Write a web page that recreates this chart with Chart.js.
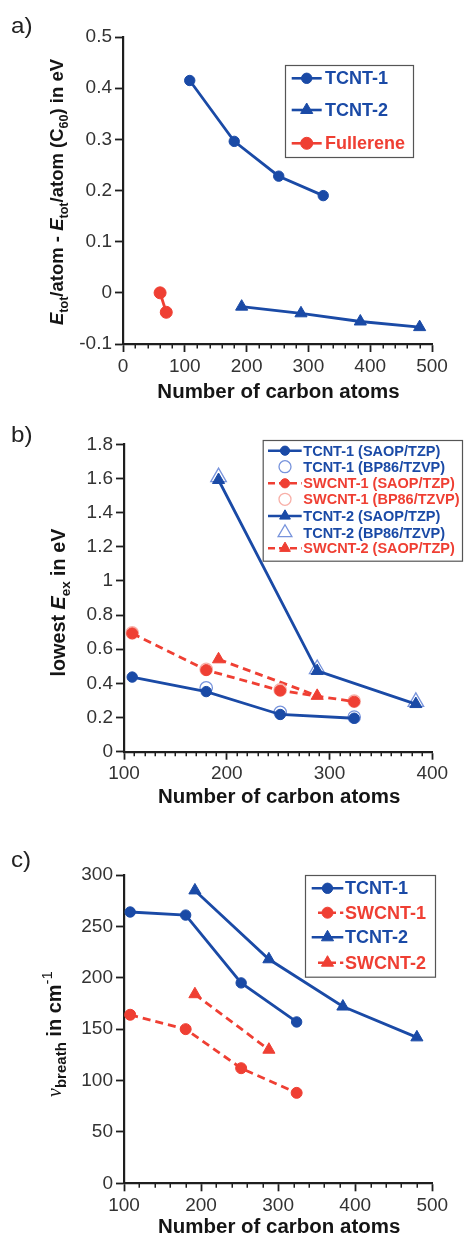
<!DOCTYPE html>
<html><head><meta charset="utf-8">
<script src="https://cdn.jsdelivr.net/npm/chart.js@4.4.1/dist/chart.umd.min.js"></script>
<style>
html,body{margin:0;padding:0;background:#fff;}
#wrap{position:relative;width:465px;height:1236px;overflow:hidden;background:#fff;}
canvas{position:absolute;left:0;}
</style></head><body>
<div id="wrap">
<canvas id="ca" width="465" height="400" style="top:0px"></canvas>
<canvas id="cb" width="465" height="420" style="top:400px"></canvas>
<canvas id="cc" width="465" height="416" style="top:820px"></canvas>
</div>
<script>
// ---------- DATA ----------
// Panel a)
const aTcnt1N = [108, 180, 252, 324];
const aTcnt1E = [0.415, 0.296, 0.228, 0.190];
const aTcnt2N = [192, 288, 384, 480];
const aTcnt2E = [-0.027, -0.040, -0.056, -0.067];
const aFullN  = [60, 70];
const aFullE  = [0.000, -0.038];
const aXLabels = ['0', '100', '200', '300', '400', '500'];
const aYLabels = ['-0.1', '0', '0.1', '0.2', '0.3', '0.4', '0.5'];

// Panel b)
const bTcnt1N    = [108, 180, 252, 324];
const bTcnt1Saop = [0.437, 0.352, 0.218, 0.196];
const bTcnt1BpN  = [180, 252, 324];
const bTcnt1Bp   = [0.374, 0.230, 0.203];
const bSwcnt1N    = [108, 180, 252, 324];
const bSwcnt1Saop = [0.693, 0.478, 0.358, 0.293];
const bSwcnt1BpN  = [108, 180, 252, 324];
const bSwcnt1Bp   = [0.696, 0.482, 0.362, 0.296];
const bTcnt2N    = [192, 288, 384];
const bTcnt2Saop = [1.591, 0.473, 0.279];
const bTcnt2Bp   = [1.608, 0.484, 0.292];
const bSwcnt2N    = [192, 288];
const bSwcnt2Saop = [0.541, 0.327];
const bXLabels = ['100', '200', '300', '400'];
const bYLabels = ['0', '0.2', '0.4', '0.6', '0.8', '1', '1.2', '1.4', '1.6', '1.8'];

// Panel c)
const cTcnt1N  = [108, 180, 252, 324];
const cTcnt1   = [264, 261, 195, 157];
const cSwcnt1N = [108, 180, 252, 324];
const cSwcnt1  = [164, 150, 112, 88];
const cTcnt2N  = [192, 288, 384, 480];
const cTcnt2   = [285, 218, 172, 142];
const cSwcnt2N = [192, 288];
const cSwcnt2  = [184, 130];
const cXLabels = ['100', '200', '300', '400', '500'];
const cYLabels = ['0', '50', '100', '150', '200', '250', '300'];

// ---------- STYLE ----------
const F = '"Liberation Sans", Arial, Helvetica, sans-serif';
const SERIF = '"Liberation Serif", "DejaVu Serif", serif';
const BLUE = '#1a4aa6';
const RED = '#ef3f33';
const LBLUE = '#7894dc';
const LRED = '#f8b0a8';
const AXIS = '#1e1e1e';
const TICKTXT = '#333333';

function pts(xs, ys) { return xs.map((x, i) => ({ x: x, y: ys[i] })); }

function series(label, xs, ys, o) {
  const open = o.open === true;
  return {
    label: label,
    data: pts(xs, ys),
    showLine: !open,
    borderColor: o.color,
    backgroundColor: o.color,
    borderWidth: 2.8,
    borderDash: o.dash ? [8, 5] : [],
    tension: 0,
    pointStyle: o.marker,
    pointRadius: o.r,
    pointHoverRadius: o.r,
    pointBackgroundColor: open ? 'rgba(0,0,0,0)' : o.color,
    pointBorderColor: o.color,
    pointBorderWidth: open ? 1.3 : 1,
    order: o.order || 0,
    legendColor: o.text || o.color,
    legendR: o.lr || o.r
  };
}

function drawMarker(ctx, style, x, y, r, fill, stroke, lw) {
  ctx.save();
  ctx.beginPath();
  if (style === 'triangle') {
    ctx.moveTo(x, y - r);
    ctx.lineTo(x + r * 0.866, y + r * 0.5);
    ctx.lineTo(x - r * 0.866, y + r * 0.5);
    ctx.closePath();
  } else {
    ctx.arc(x, y, r, 0, Math.PI * 2);
  }
  if (fill && fill !== 'rgba(0,0,0,0)') { ctx.fillStyle = fill; ctx.fill(); }
  ctx.lineWidth = lw; ctx.strokeStyle = stroke; ctx.stroke();
  ctx.restore();
}

function drawRich(ctx, segs, x, y, size, rot, hscale, subScale) {
  const ss = subScale || 0.68;
  const parts = segs.map(s => {
    const sz = (s.sub || s.sup) ? size * ss : size;
    const fam = s.serif ? SERIF : F;
    const font = (s.italic ? 'italic ' : '') + (s.bold === false ? '' : 'bold ') + sz + 'px ' + fam;
    ctx.font = font;
    return { t: s.t, font: font, w: ctx.measureText(s.t).width,
             dy: s.sub ? size * 0.27 : (s.sup ? -size * 0.45 : 0) };
  });
  const total = parts.reduce((a, p) => a + p.w, 0);
  ctx.save();
  ctx.translate(x, y);
  ctx.rotate(rot);
  ctx.scale(hscale || 1, 1);
  ctx.textBaseline = 'alphabetic';
  ctx.textAlign = 'left';
  ctx.fillStyle = '#151515';
  let cx = -total / 2;
  parts.forEach(p => { ctx.font = p.font; ctx.fillText(p.t, cx, p.dy); cx += p.w; });
  ctx.restore();
}

function makeDecor(cfg) {
  return {
    id: 'decor_' + cfg.panel,
    afterDraw(chart) {
      const ctx = chart.ctx;
      const xs = chart.scales.x;
      const area = chart.chartArea;
      // minor ticks on x axis
      ctx.save();
      ctx.strokeStyle = AXIS; ctx.lineWidth = 1.5;
      for (let v = xs.min; v <= xs.max + 1e-9; v += cfg.minor) {
        if (Math.abs(v % cfg.major) < 1e-9) continue;
        const px = Math.round(xs.getPixelForValue(v)) + 0.25;
        ctx.beginPath(); ctx.moveTo(px, area.bottom); ctx.lineTo(px, area.bottom + 4.5); ctx.stroke();
      }
      ctx.restore();
      // panel label
      ctx.save();
      ctx.font = '22px ' + F; ctx.fillStyle = '#222';
      ctx.textBaseline = 'alphabetic';
      ctx.translate(cfg.labelX, cfg.labelY); ctx.scale(1.1, 1);
      ctx.fillText(cfg.panel + ')', 0, 0);
      ctx.restore();
      // x title
      drawRich(ctx, [{ t: 'Number of carbon atoms' }], (area.left + area.right) / 2 + 1, cfg.xTitleY, 19.5, 0, 1.05);
      // y title
      drawRich(ctx, cfg.yTitle, cfg.yTitleX, cfg.yTitleCY, cfg.yTitleSize, -Math.PI / 2, 1, cfg.subScale);
      // legend
      const L = cfg.legend;
      ctx.save();
      ctx.fillStyle = '#fff';
      ctx.fillRect(L.box[0], L.box[1], L.box[2] - L.box[0], L.box[3] - L.box[1]);
      ctx.strokeStyle = '#555'; ctx.lineWidth = 1.2;
      ctx.strokeRect(L.box[0] + 0.5, L.box[1] + 0.5, L.box[2] - L.box[0], L.box[3] - L.box[1]);
      ctx.restore();
      L.items.forEach((di, k) => {
        const d = chart.data.datasets[di];
        const y = L.rows[k];
        const x0 = (d.borderColor === RED && L.redStart) ? L.redStart : L.lineX[0];
        const x1 = L.lineX[1];
        if (d.showLine !== false) {
          ctx.save();
          ctx.strokeStyle = d.borderColor; ctx.lineWidth = 2.6;
          ctx.setLineDash(d.borderDash && d.borderDash.length ? [7, 4] : []);
          ctx.beginPath(); ctx.moveTo(x0, y); ctx.lineTo(x1, y); ctx.stroke();
          ctx.restore();
        }
        drawMarker(ctx, d.pointStyle, L.markX, y, d.legendR,
                   d.pointBackgroundColor, d.pointBorderColor, d.pointBorderWidth);
        ctx.save();
        ctx.fillStyle = d.legendColor;
        ctx.font = 'bold ' + L.size + 'px ' + F;
        ctx.textBaseline = 'middle';
        ctx.translate(L.textX, y + 1); ctx.scale(L.hs || 1, 1);
        ctx.fillText(d.label, 0, 0);
        ctx.restore();
      });
    }
  };
}

function scalesFor(xLabels, yLabels, dims) {
  const xv = xLabels.map(Number), yv = yLabels.map(Number);
  return {
    x: {
      type: 'linear', min: xv[0], max: xv[xv.length - 1],
      afterBuildTicks: s => { s.ticks = xv.map(v => ({ value: v })); },
      ticks: { autoSkip: false, maxRotation: 0, padding: 3, color: TICKTXT,
               font: { family: F, size: 19 }, callback: (v, i) => xLabels[i] },
      grid: { display: true, drawOnChartArea: false, drawTicks: true, tickLength: 8, tickWidth: 1.8, tickColor: AXIS },
      border: { display: true, color: AXIS, width: 2.2 },
      afterFit: s => { s.height = dims.xh; }
    },
    y: {
      type: 'linear', min: yv[0], max: yv[yv.length - 1],
      afterBuildTicks: s => { s.ticks = yv.map(v => ({ value: v })); },
      ticks: { autoSkip: false, padding: 3, color: TICKTXT,
               font: { family: F, size: 19 }, callback: (v, i) => yLabels[i] },
      grid: { display: true, drawOnChartArea: false, drawTicks: true, tickLength: 8, tickWidth: 1.8, tickColor: AXIS },
      border: { display: true, color: AXIS, width: 2.2 },
      afterFit: s => { s.width = dims.yw; }
    }
  };
}

function build(id, datasets, xLabels, yLabels, dims, cfg) {
  return new Chart(document.getElementById(id), {
    type: 'line',
    data: { datasets: datasets },
    options: {
      responsive: false, animation: false, devicePixelRatio: 1,
      layout: { padding: { left: 0, top: dims.top, right: dims.right, bottom: 0 } },
      plugins: { legend: { display: false }, tooltip: { enabled: false } },
      elements: { line: { tension: 0 } },
      scales: scalesFor(xLabels, yLabels, dims)
    },
    plugins: [makeDecor(cfg)]
  });
}

// ---------- PANEL a ----------
build('ca', [
  series('TCNT-1', aTcnt1N, aTcnt1E, { color: BLUE, marker: 'circle', r: 5.2 }),
  series('TCNT-2', aTcnt2N, aTcnt2E, { color: BLUE, marker: 'triangle', r: 7 }),
  series('Fullerene', aFullN, aFullE, { color: RED, marker: 'circle', r: 6 })
], aXLabels, aYLabels, { top: 37, right: 33, yw: 123, xh: 56 }, {
  panel: 'a', labelX: 11, labelY: 33, minor: 20, major: 100,
  xTitleY: 398,
  yTitle: [{ t: 'E', italic: true }, { t: 'tot', sub: true }, { t: '/atom - ' },
           { t: 'E', italic: true }, { t: 'tot', sub: true }, { t: '/atom (C' },
           { t: '60', sub: true }, { t: ') in eV' }],
  yTitleX: 63, yTitleCY: 192, yTitleSize: 18.5,
  legend: { box: [285, 65, 413, 157], rows: [78.3, 110, 143.3], lineX: [291.7, 321.7], markX: 306.7,
            textX: 325, size: 18, items: [0, 1, 2] }
});

// ---------- PANEL b ----------
build('cb', [
  series('TCNT-1 (SAOP/TZP)', bTcnt1N, bTcnt1Saop, { color: BLUE, marker: 'circle', r: 5.2, lr: 4.6 }),
  series('TCNT-1 (BP86/TZVP)', bTcnt1BpN, bTcnt1Bp, { color: LBLUE, text: BLUE, marker: 'circle', r: 6.2, lr: 6, open: true }),
  series('SWCNT-1 (SAOP/TZP)', bSwcnt1N, bSwcnt1Saop, { color: RED, marker: 'circle', r: 5.5, lr: 4.6, dash: true }),
  series('SWCNT-1 (BP86/TZVP)', bSwcnt1BpN, bSwcnt1Bp, { color: LRED, text: RED, marker: 'circle', r: 6.2, lr: 6, open: true }),
  series('TCNT-2 (SAOP/TZP)', bTcnt2N, bTcnt2Saop, { color: BLUE, marker: 'triangle', r: 7, lr: 6.2 }),
  series('TCNT-2 (BP86/TZVP)', bTcnt2N, bTcnt2Bp, { color: LBLUE, text: BLUE, marker: 'triangle', r: 9, lr: 8, open: true }),
  series('SWCNT-2 (SAOP/TZP)', bSwcnt2N, bSwcnt2Saop, { color: RED, marker: 'triangle', r: 7, lr: 6.2, dash: true })
], bXLabels, bYLabels, { top: 44.3, right: 32.7, yw: 124, xh: 68.3 }, {
  panel: 'b', labelX: 11, labelY: 41.7, minor: 10, major: 100,
  xTitleY: 403,
  yTitle: [{ t: 'lowest ' }, { t: 'E', italic: true }, { t: 'ex', sub: true }, { t: ' in eV' }],
  yTitleX: 65, yTitleCY: 202.6, yTitleSize: 19.8,
  legend: { box: [262.7, 40, 462, 160.7], rows: [50.7, 66.7, 83.3, 99.3, 116, 132.7, 148.3],
            lineX: [268, 301.7], markX: 285, textX: 303.3, size: 14.5, items: [0, 1, 2, 3, 4, 5, 6] }
});

// ---------- PANEL c ----------
build('cc', [
  series('TCNT-1', cTcnt1N, cTcnt1, { color: BLUE, marker: 'circle', r: 5.2 }),
  series('SWCNT-1', cSwcnt1N, cSwcnt1, { color: RED, marker: 'circle', r: 5.5, dash: true }),
  series('TCNT-2', cTcnt2N, cTcnt2, { color: BLUE, marker: 'triangle', r: 7 }),
  series('SWCNT-2', cSwcnt2N, cSwcnt2, { color: RED, marker: 'triangle', r: 7, dash: true })
], cXLabels, cYLabels, { top: 55, right: 32.7, yw: 124, xh: 52.7 }, {
  panel: 'c', labelX: 11, labelY: 46.7, minor: 20, major: 100,
  xTitleY: 413,
  yTitle: [{ t: '\u03BD', italic: true, serif: true, bold: false }, { t: 'breath', sub: true },
           { t: ' in cm' }, { t: '-1', sup: true, bold: false }],
  yTitleX: 61, yTitleCY: 214, yTitleSize: 20, subScale: 0.75,
  legend: { box: [305, 55, 435, 156.7], rows: [68.3, 92.7, 117.3, 142.7], lineX: [311.7, 343.3], markX: 327.5,
            redStart: 318, textX: 345, size: 18, items: [0, 1, 2, 3] }
});
</script>
</body></html>
